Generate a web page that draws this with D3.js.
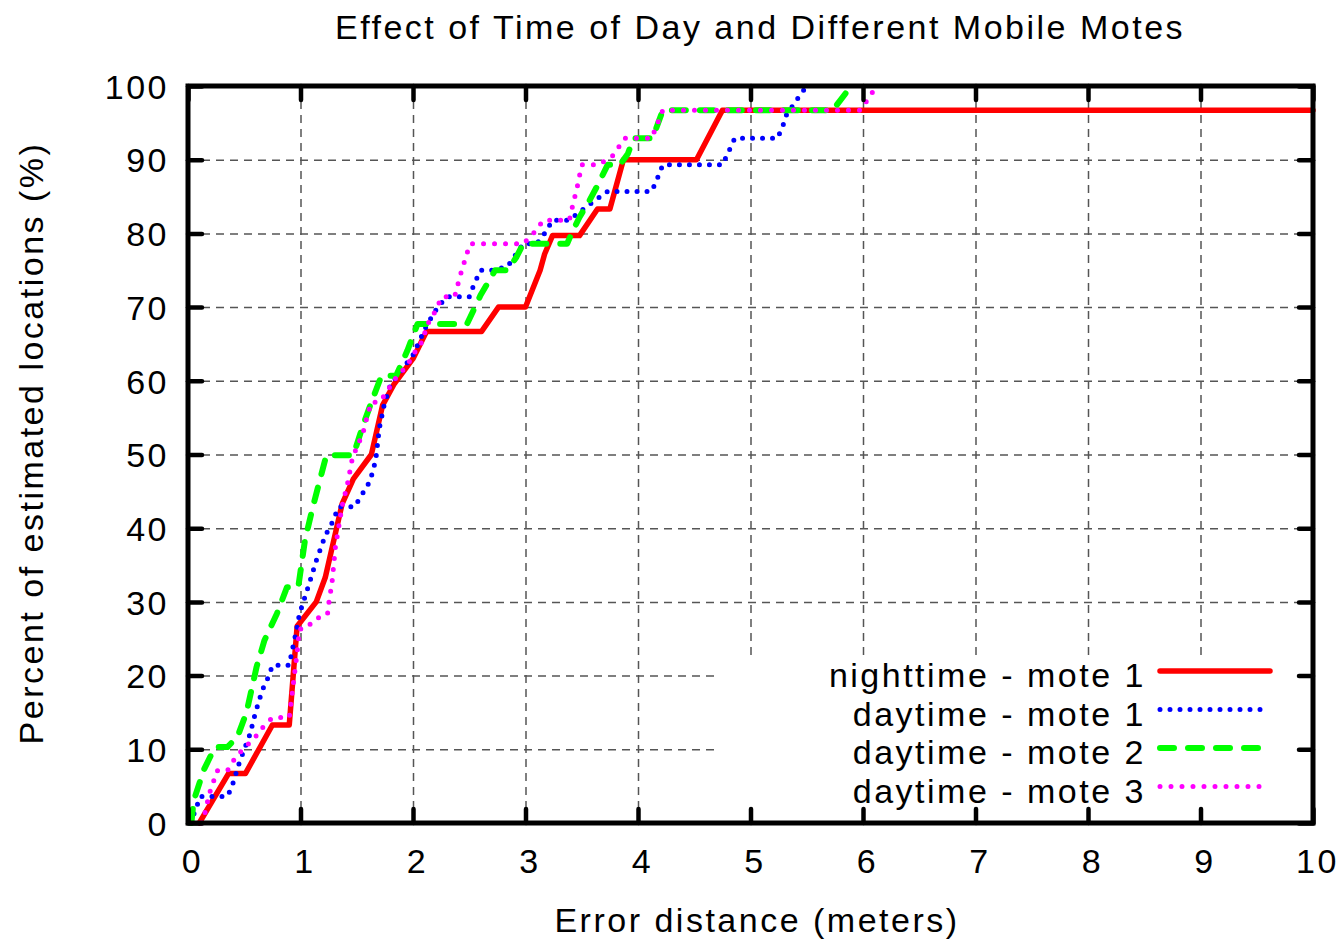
<!DOCTYPE html>
<html>
<head>
<meta charset="utf-8">
<script src="https://cdn.jsdelivr.net/npm/d3@7"></script>
<style>
  body { margin: 0; background: #fff; }
  text { font-family: "Liberation Sans", Arial, sans-serif; letter-spacing: 2.5px; }
</style>
</head>
<body>
<div class="canva"></div>
<script>
// ---- data ----
const xTicks = [0, 1, 2, 3, 4, 5, 6, 7, 8, 9, 10];
const yTicks = [0, 10, 20, 30, 40, 50, 60, 70, 80, 90, 100];

const seriesNames = ["nighttime - mote 1", "daytime - mote 1", "daytime - mote 2", "daytime - mote 3"];

// [error distance (m), percent of locations]
const nightMote1 = [
    [0.10, 0], [0.36, 6.7], [0.51, 6.7], [0.75, 13.3], [0.90, 13.3], [0.97, 26.7],
    [1.14, 30], [1.22, 33.3], [1.37, 43.3], [1.47, 46.7], [1.63, 50], [1.73, 56.7],
    [1.83, 59.5], [2.00, 63], [2.12, 66.7], [2.61, 66.7], [2.76, 70], [3.00, 70],
    [3.13, 75], [3.17, 77.2], [3.24, 79.7], [3.48, 79.7], [3.64, 83.3], [3.75, 83.3],
    [3.87, 90], [4.52, 90], [4.75, 96.7], [10, 96.7]
];
const dayMote1 = [
    [0.02, 0], [0.06, 1.5], [0.11, 3.6], [0.35, 3.6], [0.39, 4.9], [0.45, 7.9],
    [0.50, 10], [0.55, 12], [0.60, 15], [0.66, 18], [0.72, 20], [0.75, 21.4],
    [0.90, 21.4], [0.92, 23], [0.96, 25.8], [0.99, 28.3], [1.08, 32.6], [1.14, 35.6],
    [1.22, 39], [1.28, 40.7], [1.34, 42.9], [1.48, 42.9], [1.54, 44.4], [1.60, 45.9],
    [1.64, 47.5], [1.67, 49.4], [1.70, 53.5], [1.74, 56.5], [1.80, 59.5], [2.00, 63.5],
    [2.12, 67.5], [2.22, 70], [2.30, 71.4], [2.50, 71.4], [2.54, 73], [2.60, 75],
    [2.70, 75], [2.84, 75.5], [2.98, 78.6], [3.10, 78.6], [3.18, 80.2], [3.24, 81.8],
    [3.39, 81.8], [3.53, 83.5], [3.73, 85.7], [4.12, 85.7], [4.16, 87], [4.22, 89.3],
    [4.75, 89.3], [4.80, 90.9], [4.86, 92.9], [5.24, 92.9], [5.29, 94.7], [5.32, 96.1],
    [5.41, 98.1], [5.50, 100]
];
const dayMote2 = [
    [0.03, 0], [0.05, 3], [0.14, 7.2], [0.24, 10.3], [0.35, 10.3], [0.44, 11.7],
    [0.52, 15], [0.61, 21.2], [0.68, 24.8], [0.79, 28.4], [0.88, 32], [0.98, 32],
    [1.04, 38.4], [1.11, 42.9], [1.23, 49.9], [1.47, 49.9], [1.55, 53.7], [1.63, 57.1],
    [1.72, 60.7], [1.85, 60.7], [1.95, 64.1], [2.04, 67.7], [2.48, 67.7], [2.60, 71.6],
    [2.73, 75], [2.84, 75], [2.92, 76.8], [2.98, 78.6], [3.37, 78.6], [3.41, 80],
    [3.48, 82.2], [3.57, 84.5], [3.64, 86.5], [3.73, 89.3], [3.84, 89.3], [3.91, 90.8],
    [3.96, 92.9], [4.13, 92.9], [4.22, 96.7], [5.73, 96.7], [5.87, 99.5], [5.92, 100]
];
const dayMote3 = [
    [0.12, 0], [0.15, 1.3], [0.19, 4], [0.26, 7.1], [0.35, 7.1], [0.41, 8.6],
    [0.47, 9.7], [0.60, 11.7], [0.66, 12.9], [0.75, 14.3], [0.90, 14.3], [0.93, 18.1],
    [0.97, 23.1], [0.99, 26.3], [1.06, 26.5], [1.12, 27.6], [1.24, 28.3], [1.25, 29.7],
    [1.28, 32.6], [1.31, 37.4], [1.37, 43], [1.42, 46.2], [1.46, 49.4], [1.51, 51.4],
    [1.55, 52.6], [1.60, 55.6], [1.63, 57.1], [1.70, 57.1], [1.77, 58.5], [1.82, 59.9],
    [1.95, 62.1], [2.00, 63.5], [2.08, 65.3], [2.13, 67.7], [2.18, 68.9], [2.22, 70.2],
    [2.26, 71.4], [2.37, 71.4], [2.42, 74.3], [2.48, 77.3], [2.51, 78.6], [2.98, 78.6],
    [3.07, 80], [3.16, 81.8], [3.39, 81.8], [3.41, 83.2], [3.46, 86.3], [3.50, 89.3],
    [3.65, 89.3], [3.78, 90.6], [3.88, 92.9], [4.12, 92.9], [4.16, 94.4], [4.22, 96.7],
    [5.97, 96.7], [6.04, 98.1], [6.12, 100]
];

// ---- styles ----
const seriesStyle = [
    { color: "#ff0000", width: 5.5, dash: null },
    { color: "#0000ff", width: 5, dash: "0 10" },
    { color: "#00ff00", width: 6, dash: "14 14" },
    { color: "#ff00ff", width: 5, dash: "0 11" }
];
const seriesData = [nightMote1, dayMote1, dayMote2, dayMote3];

const svg = d3.select(".canva").append("svg")
    .attr("width", 1342)
    .attr("height", 943);

const margin = { top: 86, right: 29, bottom: 120, left: 188 };
const graphWidth = 1342 - margin.left - margin.right;
const graphHeight = 943 - margin.top - margin.bottom;

const graph = svg.append("g")
    .attr("transform", `translate(${margin.left}, ${margin.top})`);

const x = d3.scaleLinear().domain([0, 10]).range([0, graphWidth]);
const y = d3.scaleLinear().domain([0, 100]).range([graphHeight, 0]);

// grid
const gridStyle = g => {
    g.select(".domain").remove();
    g.selectAll("line")
        .attr("stroke", "#555")
        .attr("stroke-width", 1.5)
        .attr("stroke-dasharray", "8 6");
};
graph.append("g")
    .attr("transform", `translate(0, ${graphHeight})`)
    .call(d3.axisBottom(x).tickValues(xTicks.slice(1, -1)).tickSize(-graphHeight).tickFormat(""))
    .call(gridStyle);
graph.append("g")
    .call(d3.axisLeft(y).tickValues(yTicks.slice(1, -1)).tickSize(-graphWidth).tickFormat(""))
    .call(gridStyle);

// opaque key area
graph.append("rect")
    .attr("x", 532)
    .attr("y", 569)
    .attr("width", graphWidth - 532)
    .attr("height", graphHeight - 569)
    .attr("fill", "#fff");

// curves
const line = d3.line()
    .x(d => x(d[0]))
    .y(d => y(d[1]));

seriesData.forEach((data, i) => {
    const st = seriesStyle[i];
    graph.append("path")
        .datum(data)
        .attr("fill", "none")
        .attr("stroke", st.color)
        .attr("stroke-width", st.width)
        .attr("stroke-linecap", "round")
        .attr("stroke-linejoin", "round")
        .attr("stroke-dasharray", st.dash)
        .attr("d", line);
});

// axes with inward ticks on all four sides
const axisStyle = g => {
    g.select(".domain").remove();
    g.selectAll("line")
        .attr("stroke", "#000")
        .attr("stroke-width", 4.5)
        .attr("stroke-linecap", "round");
    g.selectAll("text")
        .attr("fill", "#000")
        .style("font-size", "34px");
};

graph.append("g")
    .attr("transform", `translate(0, ${graphHeight})`)
    .call(d3.axisBottom(x).tickValues(xTicks).tickSize(-14).tickPadding(26))
    .call(axisStyle)
    .selectAll("text").attr("dx", 4);
graph.append("g")
    .call(d3.axisTop(x).tickValues(xTicks).tickSize(-14).tickFormat(""))
    .call(axisStyle);
graph.append("g")
    .call(d3.axisLeft(y).tickValues(yTicks).tickSize(-14).tickPadding(19))
    .call(axisStyle)
    .selectAll("text").attr("dy", "0.36em");
graph.append("g")
    .attr("transform", `translate(${graphWidth}, 0)`)
    .call(d3.axisRight(y).tickValues(yTicks).tickSize(-14).tickFormat(""))
    .call(axisStyle);

// frame
graph.append("rect")
    .attr("width", graphWidth)
    .attr("height", graphHeight)
    .attr("fill", "none")
    .attr("stroke", "#000")
    .attr("stroke-width", 5);

// titles
svg.append("text")
    .attr("x", 760)
    .attr("y", 39)
    .attr("text-anchor", "middle")
    .style("font-size", "34px")
    .text("Effect of Time of Day and Different Mobile Motes");

svg.append("text")
    .attr("x", 757)
    .attr("y", 932)
    .attr("text-anchor", "middle")
    .style("font-size", "34px")
    .text("Error distance (meters)");

svg.append("text")
    .attr("transform", "translate(43, 443) rotate(-90)")
    .attr("text-anchor", "middle")
    .style("font-size", "34px")
    .text("Percent of estimated locations (%)");

// legend
const legend = svg.append("g")
    .attr("transform", "translate(1146, 675)");

seriesNames.forEach((name, i) => {
    const st = seriesStyle[i];
    const row = legend.append("g")
        .attr("transform", `translate(0, ${i * 38.5})`);

    row.append("text")
        .attr("x", 0)
        .attr("y", 12)
        .attr("text-anchor", "end")
        .style("font-size", "34px")
        .text(name);

    row.append("line")
        .attr("x1", 14)
        .attr("x2", 124)
        .attr("y1", -4)
        .attr("y2", -4)
        .attr("stroke", st.color)
        .attr("stroke-width", st.width)
        .attr("stroke-linecap", "round")
        .attr("stroke-dasharray", st.dash);
});
</script>
</body>
</html>
